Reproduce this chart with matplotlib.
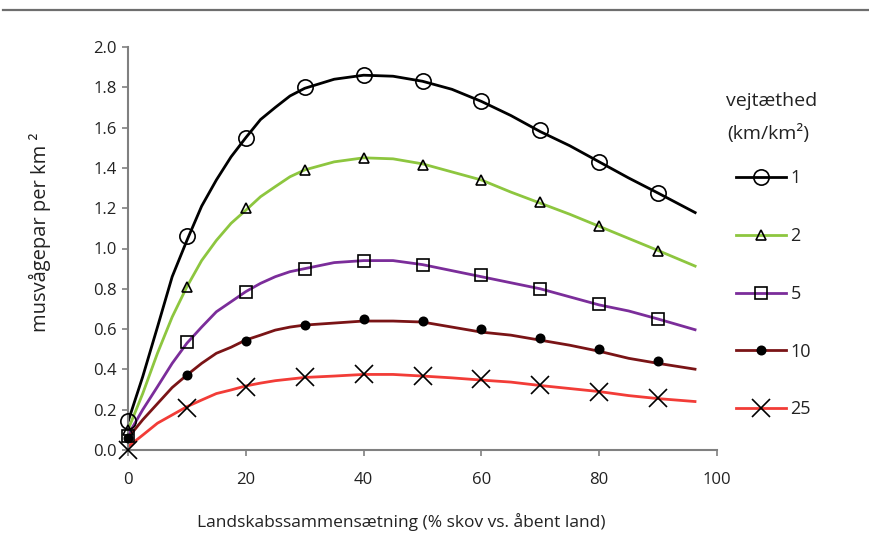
import matplotlib
matplotlib.use("Agg")
import matplotlib.pyplot as plt
from matplotlib.lines import Line2D

plt.rcParams['font.family'] = ['Open Sans', 'DejaVu Sans']

# Smooth model curves (x in % forest)
line_x = [0, 2.5, 5, 7.5, 10, 12.5, 15, 17.5, 20, 22.5, 25, 27.5, 30,
          35, 40, 45, 50, 55, 60, 65, 70, 75, 80, 85, 90, 96.5]
line_1 = [0.14, 0.364, 0.61, 0.86, 1.04, 1.21, 1.34, 1.455, 1.55, 1.64, 1.70, 1.757, 1.795,
          1.84, 1.86, 1.855, 1.83, 1.79, 1.73, 1.66, 1.58, 1.51, 1.43, 1.35, 1.275, 1.175]
line_2 = [0.10, 0.28, 0.48, 0.66, 0.81, 0.94, 1.04, 1.125, 1.19, 1.257, 1.307, 1.356, 1.39,
          1.43, 1.45, 1.445, 1.42, 1.38, 1.34, 1.28, 1.225, 1.17, 1.11, 1.05, 0.99, 0.91]
line_5 = [0.074, 0.20, 0.314, 0.43, 0.53, 0.61, 0.686, 0.736, 0.786, 0.827, 0.86, 0.885, 0.90,
          0.93, 0.94, 0.94, 0.92, 0.89, 0.86, 0.83, 0.80, 0.76, 0.72, 0.69, 0.65, 0.595]
line_10 = [0.06, 0.15, 0.23, 0.31, 0.372, 0.43, 0.48, 0.51, 0.546, 0.57, 0.595, 0.61, 0.62,
           0.63, 0.64, 0.64, 0.635, 0.61, 0.585, 0.57, 0.545, 0.52, 0.49, 0.455, 0.43, 0.40]
line_25 = [0.016, 0.074, 0.133, 0.174, 0.215, 0.248, 0.28, 0.298, 0.318, 0.332, 0.344, 0.352, 0.36,
           0.367, 0.375, 0.375, 0.367, 0.358, 0.347, 0.337, 0.32, 0.305, 0.29, 0.27, 0.255, 0.24]

# Marker points
marker_x = [0, 10, 20, 30, 40, 50, 60, 70, 80, 90]
pts_1 = [0.145, 1.06, 1.55, 1.80, 1.86, 1.83, 1.73, 1.59, 1.43, 1.275]
pts_2 = [0.10, 0.81, 1.20, 1.39, 1.45, 1.415, 1.34, 1.23, 1.11, 0.99]
pts_5 = [0.07, 0.535, 0.785, 0.90, 0.94, 0.92, 0.87, 0.80, 0.725, 0.65]
pts_10 = [0.06, 0.37, 0.54, 0.62, 0.65, 0.64, 0.60, 0.555, 0.50, 0.44]
pts_25 = [0.0, 0.21, 0.315, 0.36, 0.375, 0.367, 0.35, 0.325, 0.29, 0.26]

labels = ['1', '2', '5', '10', '25']
colors = ['#000000', '#8DC63F', '#7B2D9A', '#7A1416', '#F23C37']
markers = ['o', '^', 's', 'o', 'x']
msizes = [11, 7, 8, 6, 13]
mfills = ['none', 'none', 'none', 'full', 'none']

x_ticks = [0, 20, 40, 60, 80, 100]
y_ticks = [0.0, 0.2, 0.4, 0.6, 0.8, 1.0, 1.2, 1.4, 1.6, 1.8, 2.0]

fig = plt.figure(figsize=(8.69, 5.41), dpi=100)
ax = fig.add_axes([128/869, 1-450/541, (717-128)/869, (450-47)/541])

lines = [line_1, line_2, line_5, line_10, line_25]
pts = [pts_1, pts_2, pts_5, pts_10, pts_25]
handles = []
for ly, py, c, m, ms, mf, lab in zip(lines, pts, colors, markers, msizes, mfills, labels):
    ax.plot(line_x, ly, color=c, lw=2.0, solid_capstyle='butt', solid_joinstyle='round', zorder=2)
    ax.plot(marker_x, py, linestyle='none', marker=m, markersize=ms,
            markeredgecolor='black', markerfacecolor='black' if mf == 'full' else 'none',
            markeredgewidth=1.2, clip_on=False, zorder=3)
    handles.append(Line2D([0], [0], color=c, lw=2.0, marker=m, markersize=ms,
                          markeredgecolor='black',
                          markerfacecolor='black' if mf == 'full' else 'none',
                          markeredgewidth=1.2, label=lab))

ax.set_xlim(0, 100)
ax.set_ylim(0, 2.0)
ax.set_xticks(x_ticks)
ax.set_yticks(y_ticks)
ax.set_yticklabels([f"{v:.1f}" for v in y_ticks])
for s in ['top', 'right']:
    ax.spines[s].set_visible(False)
for s in ['left', 'bottom']:
    ax.spines[s].set_color('#808080')
    ax.spines[s].set_linewidth(1.5)
ax.tick_params(axis='both', colors='#808080', labelcolor='#222222', labelsize=12,
               length=4, width=1.2, direction='out')
ax.tick_params(axis='x', pad=12)
ax.tick_params(axis='y', pad=4)

fig.text(40/869, 1-232/541, 'musvågepar per km ²', rotation=90, fontsize=14.5,
         ha='center', va='center', color='#222222')
fig.text(401/869, 1-522/541, 'Landskabssammensætning (% skov vs. åbent land)',
         fontsize=12.5, ha='center', va='center', color='#222222')

# legend title
fig.text(726/869, 1-101/541, 'vejtæthed', fontsize=14, ha='left', va='center', color='#222222')
fig.text(727/869, 1-133/541, '(km/km²)', fontsize=14, ha='left', va='center', color='#222222')

leg = fig.legend(handles=handles, loc='upper left', bbox_to_anchor=(730.5/869, 1-164/541),
                 frameon=False, fontsize=13, handlelength=2.8, handletextpad=0.22,
                 labelspacing=2.2, borderpad=0.3, borderaxespad=0)
for t in leg.get_texts():
    t.set_color('#222222')

fig.add_artist(Line2D([3/869, 1.0], [1-10/541, 1-10/541], color='#6E6E6E', lw=1.6,
                      transform=fig.transFigure))

fig.savefig('out.png', dpi=100)
